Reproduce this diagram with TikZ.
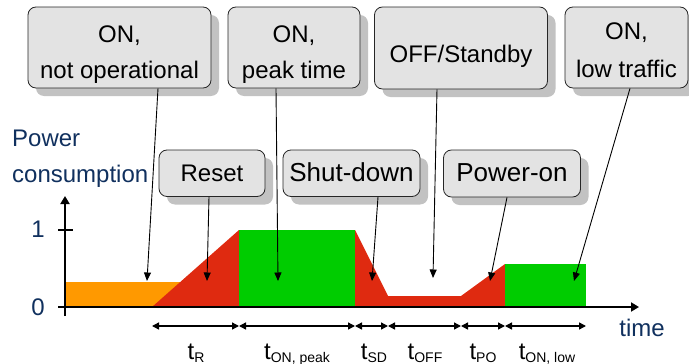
\documentclass[tikz,border=0pt]{standalone}
\usepackage{fontspec}
\setmainfont{Liberation Sans}
\usetikzlibrary{arrows.meta,shadows}
\definecolor{navy}{HTML}{10305E}
\definecolor{boxfill}{HTML}{E3E3E3}
\definecolor{boxshadow}{HTML}{C2C2C2}
\definecolor{orangefill}{HTML}{FF9900}
\definecolor{redfill}{HTML}{DF2A10}
\definecolor{greenfill}{HTML}{00CC00}
\newcommand\tsb[1]{\raisebox{-3pt}{\fontsize{14}{14}\selectfont #1}}
\begin{document}
\begin{tikzpicture}[x=1pt,y=-1pt,
  statebox/.style={draw=black!85, line width=0.8pt, fill=boxfill, rounded corners=8pt,
    inner sep=0pt, align=center, anchor=base, font=\fontsize{24}{36}\selectfont,
    drop shadow={shadow xshift=8pt, shadow yshift=-8pt, fill=boxshadow, opacity=1}},
  ptr/.style={draw=black, line width=0.9pt, -{Triangle[length=8.5pt,width=7pt]}},
  axisline/.style={line width=1.8pt, -{Triangle[length=8pt,width=9pt]}},
  dimline/.style={line width=1.4pt, {Triangle[length=7pt,width=7pt]}-{Triangle[length=7pt,width=7pt]}},
  tlabel/.style={anchor=base, inner sep=0pt, font=\fontsize{24}{24}\selectfont},
  navylabel/.style={inner sep=0pt, text=navy, font=\fontsize{24}{36}\selectfont}
]
\useasboundingbox (0,0) rectangle (689,364);
\clip (0,0) rectangle (689,364);

% chart areas
\fill[orangefill] (65,282) rectangle (185,307);
\fill[redfill] (152,307) -- (239,230) -- (239,307) -- cycle;
\fill[greenfill] (239,230) rectangle (355,307);
\fill[redfill] (355,230) -- (388,296) -- (461,296) -- (505,264) -- (505,307) -- (355,307) -- cycle;
\fill[greenfill] (505,264) rectangle (586,307);

% axes
\coordinate (yb) at (65,316);
\coordinate (yt) at (65,196);
\coordinate (xl) at (58,307);
\coordinate (xr) at (639,307);
\draw[axisline] (yb) -- (yt);
\draw[axisline] (xl) -- (xr);
\draw[line width=1.8pt] (58,230) -- (73,230);

\node[navylabel, anchor=base] (one) at (38,237) {1};
\node[navylabel, anchor=base] (zero) at (38,315) {0};
\node[navylabel, anchor=base] (time) at (642,336) {time};
\node[navylabel, anchor=base west, align=left] (power) at (12,182) {Power\\consumption};

% state boxes (base anchor = baseline of the last text line)
\node[statebox, minimum width=183pt, text height=71pt, text depth=10pt] (on1) at (119.5,78) {ON,\\not operational};
\node[statebox, minimum width=132pt, text height=71pt, text depth=10pt] (on2) at (294,78) {ON,\\peak time};
\node[statebox, minimum width=173pt, text height=55pt, text depth=27pt] (off) at (461,62) {OFF/Standby};
\node[statebox, minimum width=123pt, text height=70pt, text depth=11pt, font=\fontsize{24}{38}\selectfont] (on3) at (626.5,77) {ON,\\low traffic};

\node[statebox, minimum width=106pt, text height=31.5pt, text depth=15pt] (reset) at (212,181.5) {Reset};
\node[statebox, minimum width=137pt, text height=31.5pt, text depth=15pt, font=\fontsize{26}{30}\selectfont] (shut) at (351.5,181.5) {Shut-down};
\node[statebox, minimum width=137pt, text height=31.5pt, text depth=15.5pt, font=\fontsize{26}{30}\selectfont] (pon) at (512,181.5) {Power-on};

% pointers
\coordinate (p1) at (147,281);
\coordinate (p2) at (278,281);
\coordinate (p3) at (207,281);
\coordinate (p4) at (372,281);
\coordinate (p5) at (433,278);
\coordinate (p6) at (490,281);
\coordinate (p7) at (574,281);
\draw[ptr] ([xshift=38.5pt]on1.south) -- (p1);
\draw[ptr] ([xshift=-18pt]on2.south) -- (p2);
\draw[ptr] ([xshift=-3pt]reset.south) -- (p3);
\draw[ptr] ([xshift=26.5pt]shut.south) -- (p4);
\draw[ptr] ([xshift=-24pt]off.south) -- (p5);
\draw[ptr] ([xshift=-5pt]pon.south) -- (p6);
\draw[ptr] ([xshift=3.5pt]on3.south) -- (p7);

% durations
\coordinate (d0) at (152,326);
\coordinate (d1) at (239,326);
\coordinate (d2) at (355,326);
\coordinate (d3) at (388,326);
\coordinate (d4) at (461,326);
\coordinate (d5) at (505,326);
\coordinate (d6) at (586,326);
\draw[dimline] (d0) -- (d1);
\draw[dimline] (d1) -- (d2);
\draw[dimline] (d2) -- (d3);
\draw[dimline] (d3) -- (d4);
\draw[dimline] (d4) -- (d5);
\draw[dimline] (d5) -- (d6);

\node[tlabel] (tR) at (196,359) {t\tsb{R}};
\node[tlabel] (tONp) at (297,359) {t\tsb{ON, peak}};
\node[tlabel] (tSD) at (374,359) {t\tsb{SD}};
\node[tlabel] (tOFF) at (425,359) {t\tsb{OFF}};
\node[tlabel] (tPO) at (483,359) {t\tsb{PO}};
\node[tlabel] (tONl) at (547,359) {t\tsb{ON, low}};
\end{tikzpicture}
\end{document}
